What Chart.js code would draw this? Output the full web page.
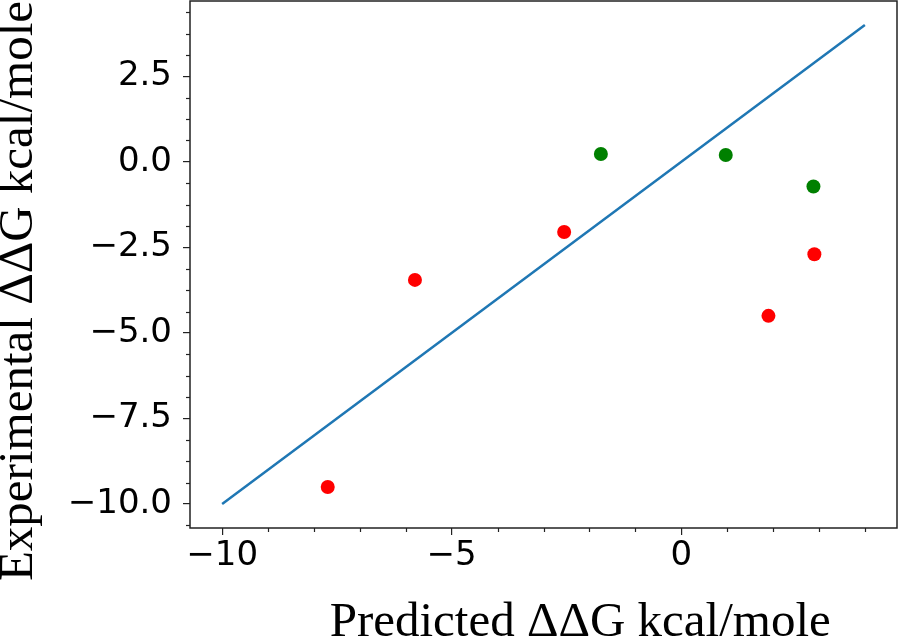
<!DOCTYPE html>
<html>
<head>
<meta charset="utf-8">
<script src="https://cdn.jsdelivr.net/npm/chart.js@4/dist/chart.umd.min.js"></script>
<style>
  html, body { margin: 0; padding: 0; background: #fff; }
  #wrap { width: 900px; height: 643px; }
</style>
</head>
<body>
<div id="wrap"><canvas id="ddgChart" width="900" height="643"></canvas></div>
<script>
// data
const redX = [-7.7, -5.8, -2.55, 1.9, 2.9];
const redY = [-9.5, -3.45, -2.05, -4.5, -2.7];
const greenX = [-1.75, 0.97, 2.88];
const greenY = [0.23, 0.2, -0.72];
const lineX = [-10, 4];
const lineY = [-10, 4];

// axis ticks
const xMajor = [-10, -5, 0];
const xMinor = [-9, -8, -7, -6, -4, -3, -2, -1, 1, 2, 3, 4];
const yMajor = [-10, -7.5, -5, -2.5, 0, 2.5];
const yMinor = [-10.625, -9.375, -8.75, -8.125, -6.875, -6.25, -5.625, -4.375, -3.75, -3.125,
                -1.875, -1.25, -0.625, 0.625, 1.25, 1.875, 3.125, 3.75, 4.375];
const axisMin = -10.7;
const axisMax = 4.7;

function toPoints(xs, ys) {
    return xs.map((x, i) => ({ x: x, y: ys[i] }));
}

function minus(s) {
    return s.replace('-', '\u2212');
}

const axisColor = '#222';

// box around the plot + short minor ticks
const framePlugin = {
    id: 'frame',
    afterDraw(chart) {
        const ctx = chart.ctx;
        const a = chart.chartArea;
        const xs = chart.scales.x;
        const ys = chart.scales.y;
        ctx.save();
        ctx.strokeStyle = axisColor;
        ctx.lineWidth = 1.2;
        xMinor.forEach(v => {
            const px = Math.round(xs.getPixelForValue(v)) + 0.5;
            ctx.beginPath();
            ctx.moveTo(px, a.bottom);
            ctx.lineTo(px, a.bottom + 4);
            ctx.stroke();
        });
        yMinor.forEach(v => {
            const py = Math.round(ys.getPixelForValue(v)) + 0.5;
            ctx.beginPath();
            ctx.moveTo(a.left, py);
            ctx.lineTo(a.left - 4, py);
            ctx.stroke();
        });
        ctx.lineWidth = 1.5;
        ctx.strokeRect(a.left, a.top, a.right - a.left, a.bottom - a.top);
        ctx.restore();
    }
};

function noPad(s) {
    s.paddingTop = 0;
    s.paddingBottom = 0;
    s.paddingLeft = 0;
    s.paddingRight = 0;
}

const tickFont = { family: 'DejaVu Sans', size: 34 };
const titleFont = { family: 'Liberation Serif', size: 49, lineHeight: 0.8 };

new Chart(document.getElementById('ddgChart'), {
    type: 'scatter',
    data: {
        datasets: [
            {
                label: 'green',
                data: toPoints(greenX, greenY),
                backgroundColor: '#008000',
                borderWidth: 0,
                pointRadius: 7
            },
            {
                label: 'red',
                data: toPoints(redX, redY),
                backgroundColor: '#ff0000',
                borderWidth: 0,
                pointRadius: 7
            },
            {
                label: 'fit',
                data: toPoints(lineX, lineY),
                showLine: true,
                borderColor: '#1f77b4',
                borderWidth: 2.5,
                pointRadius: 0
            }
        ]
    },
    options: {
        responsive: false,
        animation: false,
        layout: { autoPadding: false, padding: { top: 1, right: 3, left: 0, bottom: 0 } },
        plugins: {
            legend: { display: false },
            tooltip: { enabled: false }
        },
        scales: {
            x: {
                type: 'linear',
                min: axisMin,
                max: axisMax,
                afterFit: s => { s.height = 115; noPad(s); },
                afterBuildTicks: s => { s.ticks = xMajor.map(v => ({ value: v })); },
                border: { display: false },
                grid: { drawOnChartArea: false, drawTicks: true, tickLength: 7, color: axisColor, lineWidth: 1.2 },
                ticks: {
                    font: tickFont,
                    color: '#000',
                    padding: 1,
                    maxRotation: 0,
                    autoSkip: false,
                    callback: v => minus(String(v))
                },
                title: {
                    display: true,
                    // leading spaces push the centred title right, as in the original
                    text: '      Predicted \u0394\u0394G kcal/mole',
                    font: titleFont,
                    color: '#000',
                    padding: 0
                }
            },
            y: {
                type: 'linear',
                min: axisMin,
                max: axisMax,
                afterFit: s => { s.width = 190; noPad(s); },
                afterBuildTicks: s => { s.ticks = yMajor.map(v => ({ value: v })); },
                border: { display: false },
                grid: { drawOnChartArea: false, drawTicks: true, tickLength: 7, color: axisColor, lineWidth: 1.2 },
                ticks: {
                    font: tickFont,
                    color: '#000',
                    padding: 11,
                    autoSkip: false,
                    callback: v => minus(Number(v).toFixed(1))
                },
                title: {
                    display: true,
                    text: 'Experimental \u0394\u0394G kcal/mole',
                    align: 'end',
                    font: titleFont,
                    color: '#000',
                    padding: 0
                }
            }
        }
    },
    plugins: [framePlugin]
});
</script>
</body>
</html>
